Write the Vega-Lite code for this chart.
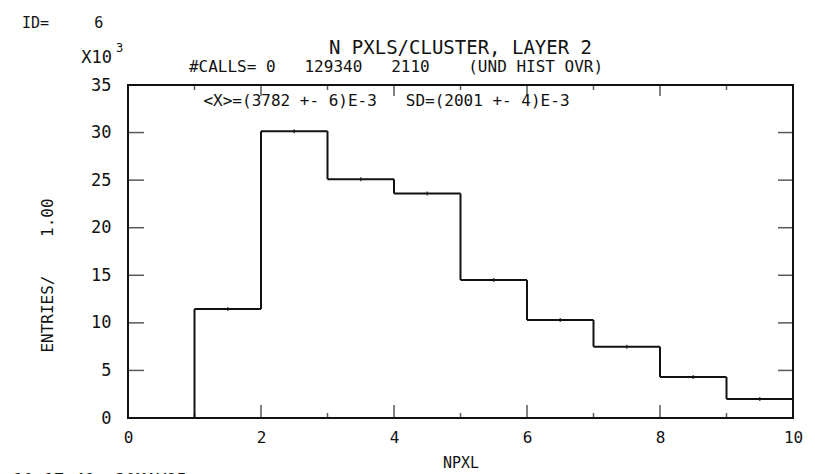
{
  "$schema": "https://vega.github.io/schema/vega-lite/v6.json",
  "width": 665,
  "height": 333,
  "autosize": {"type": "none"},
  "padding": {"left": 128, "top": 85, "right": 22, "bottom": 56},
  "background": "white",
  "config": {
    "view": {"stroke": "#111111", "strokeWidth": 2},
    "font": "DejaVu Sans Mono",
    "text": {"font": "DejaVu Sans Mono", "color": "#111111"},
    "axis": {"ticks": false, "domain": false, "grid": false, "labelFlush": false, "labelColor": "#111111", "titleColor": "#111111", "titleFontWeight": "normal", "labelFont": "DejaVu Sans Mono", "titleFont": "DejaVu Sans Mono", "format": "d"}
  },
  "datasets": {
    "hist": [
      {"lo": 0, "hi": 1, "n": 0},
      {"lo": 1, "hi": 2, "n": 11.45},
      {"lo": 2, "hi": 3, "n": 30.15},
      {"lo": 3, "hi": 4, "n": 25.1},
      {"lo": 4, "hi": 5, "n": 23.6},
      {"lo": 5, "hi": 6, "n": 14.5},
      {"lo": 6, "hi": 7, "n": 10.3},
      {"lo": 7, "hi": 8, "n": 7.5},
      {"lo": 8, "hi": 9, "n": 4.3},
      {"lo": 9, "hi": 10, "n": 2.0}
    ],
    "xt": [{"v": 1}, {"v": 2}, {"v": 3}, {"v": 4}, {"v": 5}, {"v": 6}, {"v": 7}, {"v": 8}, {"v": 9}],
    "yt": [{"v": 5}, {"v": 10}, {"v": 15}, {"v": 20}, {"v": 25}, {"v": 30}],
    "one": [{}]
  },
  "layer": [
    {
      "data": {"name": "hist"},
      "mark": {"type": "rule", "strokeWidth": 2, "color": "#111111"},
      "encoding": {
        "x": {
          "field": "lo", "type": "quantitative",
          "scale": {"domain": [0, 10], "nice": false, "zero": false},
          "axis": {
            "values": [0, 2, 4, 6, 8, 10], "format": "d", "labelFlush": false,
            "labelFontSize": 16, "labelPadding": 11,
            "title": "NPXL", "titleFontSize": 15,
            "titleBaseline": "alphabetic", "titleY": 49
          }
        },
        "x2": {"field": "hi"},
        "y": {
          "field": "n", "type": "quantitative",
          "scale": {"domain": [0, 35], "nice": false, "zero": true},
          "axis": {
            "values": [0, 5, 10, 15, 20, 25, 30, 35], "format": "d", "labelFlush": false,
            "labelFontSize": 17, "labelPadding": 17,
            "title": "ENTRIES/\u00a0\u00a0\u00a0\u00a01.00", "titleFontSize": 16,
            "titleAngle": -90, "titleAlign": "center", "titleBaseline": "middle", "titleX": -81, "titleY": 190
          }
        }
      }
    },
    {
      "data": {"name": "hist"},
      "transform": [
        {"window": [{"op": "lag", "field": "n", "as": "prev"}], "sort": [{"field": "lo"}]},
        {"filter": "datum.prev != null"}
      ],
      "mark": {"type": "rule", "strokeWidth": 2, "color": "#111111"},
      "encoding": {
        "x": {"field": "lo", "type": "quantitative"},
        "y": {"field": "prev", "type": "quantitative"},
        "y2": {"field": "n"}
      }
    },
    {
      "data": {"name": "hist"},
      "transform": [{"filter": "datum.n > 0"}, {"calculate": "(datum.lo + datum.hi) / 2", "as": "mid"}],
      "mark": {"type": "tick", "orient": "vertical", "size": 4, "thickness": 1.5, "color": "#111111"},
      "encoding": {
        "x": {"field": "mid", "type": "quantitative"},
        "y": {"field": "n", "type": "quantitative"}
      }
    },
    {
      "data": {"name": "xt"},
      "transform": [{"filter": "datum.v % 2 == 0"}],
      "mark": {"type": "tick", "orient": "vertical", "size": 26, "thickness": 1.5, "color": "#111111", "clip": true},
      "encoding": {
        "x": {"field": "v", "type": "quantitative"},
        "y": {"datum": 0, "type": "quantitative"}
      }
    },
    {
      "data": {"name": "xt"},
      "transform": [{"filter": "datum.v % 2 == 1"}],
      "mark": {"type": "tick", "orient": "vertical", "size": 10, "thickness": 1.5, "color": "#111111", "clip": true},
      "encoding": {
        "x": {"field": "v", "type": "quantitative"},
        "y": {"datum": 0, "type": "quantitative"}
      }
    },
    {
      "data": {"name": "xt"},
      "transform": [{"filter": "datum.v % 2 == 0"}],
      "mark": {"type": "tick", "orient": "vertical", "size": 22, "thickness": 1.5, "color": "#111111", "clip": true},
      "encoding": {
        "x": {"field": "v", "type": "quantitative"},
        "y": {"datum": 35, "type": "quantitative"}
      }
    },
    {
      "data": {"name": "xt"},
      "transform": [{"filter": "datum.v % 2 == 1"}],
      "mark": {"type": "tick", "orient": "vertical", "size": 10, "thickness": 1.5, "color": "#111111", "clip": true},
      "encoding": {
        "x": {"field": "v", "type": "quantitative"},
        "y": {"datum": 35, "type": "quantitative"}
      }
    },
    {
      "data": {"name": "yt"},
      "mark": {"type": "tick", "orient": "horizontal", "size": 32, "thickness": 1.5, "color": "#111111", "clip": true},
      "encoding": {
        "y": {"field": "v", "type": "quantitative"},
        "x": {"datum": 0, "type": "quantitative"}
      }
    },
    {
      "data": {"name": "yt"},
      "mark": {"type": "tick", "orient": "horizontal", "size": 30, "thickness": 1.5, "color": "#111111", "clip": true},
      "encoding": {
        "y": {"field": "v", "type": "quantitative"},
        "x": {"datum": 10, "type": "quantitative"}
      }
    },
    {
      "data": {"name": "one"},
      "mark": {"type": "text", "text": "N PXLS/CLUSTER, LAYER 2", "fontSize": 19, "align": "center", "baseline": "alphabetic"},
      "encoding": {
        "x": {"datum": 5, "type": "quantitative"},
        "y": {"datum": 38.26, "type": "quantitative"}
      }
    },
    {
      "data": {"name": "one"},
      "mark": {"type": "text", "text": "#CALLS= 0\u00a0\u00a0\u00a0129340\u00a0\u00a0\u00a02110\u00a0\u00a0\u00a0\u00a0(UND HIST OVR)", "fontSize": 16, "align": "center", "baseline": "alphabetic"},
      "encoding": {
        "x": {"datum": 4.03, "type": "quantitative"},
        "y": {"datum": 36.37, "type": "quantitative"}
      }
    },
    {
      "data": {"name": "one"},
      "mark": {"type": "text", "text": "<X>=(3782 +- 6)E-3\u00a0\u00a0\u00a0SD=(2001 +- 4)E-3", "fontSize": 16, "align": "center", "baseline": "alphabetic"},
      "encoding": {
        "x": {"datum": 3.887, "type": "quantitative"},
        "y": {"datum": 32.8, "type": "quantitative"}
      }
    },
    {
      "data": {"name": "one"},
      "mark": {"type": "text", "text": "ID=\u00a0\u00a0\u00a0\u00a0\u00a06", "fontSize": 15, "align": "left", "baseline": "alphabetic"},
      "encoding": {
        "x": {"datum": -1.594, "type": "quantitative"},
        "y": {"datum": 40.99, "type": "quantitative"}
      }
    },
    {
      "data": {"name": "one"},
      "mark": {"type": "text", "text": "X10", "fontSize": 17, "align": "right", "baseline": "alphabetic"},
      "encoding": {
        "x": {"datum": -0.241, "type": "quantitative"},
        "y": {"datum": 37.31, "type": "quantitative"}
      }
    },
    {
      "data": {"name": "one"},
      "mark": {"type": "text", "text": "3", "fontSize": 12, "align": "left", "baseline": "alphabetic"},
      "encoding": {
        "x": {"datum": -0.18, "type": "quantitative"},
        "y": {"datum": 38.47, "type": "quantitative"}
      }
    },
    {
      "data": {"name": "one"},
      "mark": {"type": "text", "text": "10.17.41\u00a0\u00a030MAY95", "fontSize": 17, "align": "left", "baseline": "alphabetic"},
      "encoding": {
        "x": {"datum": -1.729, "type": "quantitative"},
        "y": {"datum": -7.1, "type": "quantitative"}
      }
    }
  ]
}
